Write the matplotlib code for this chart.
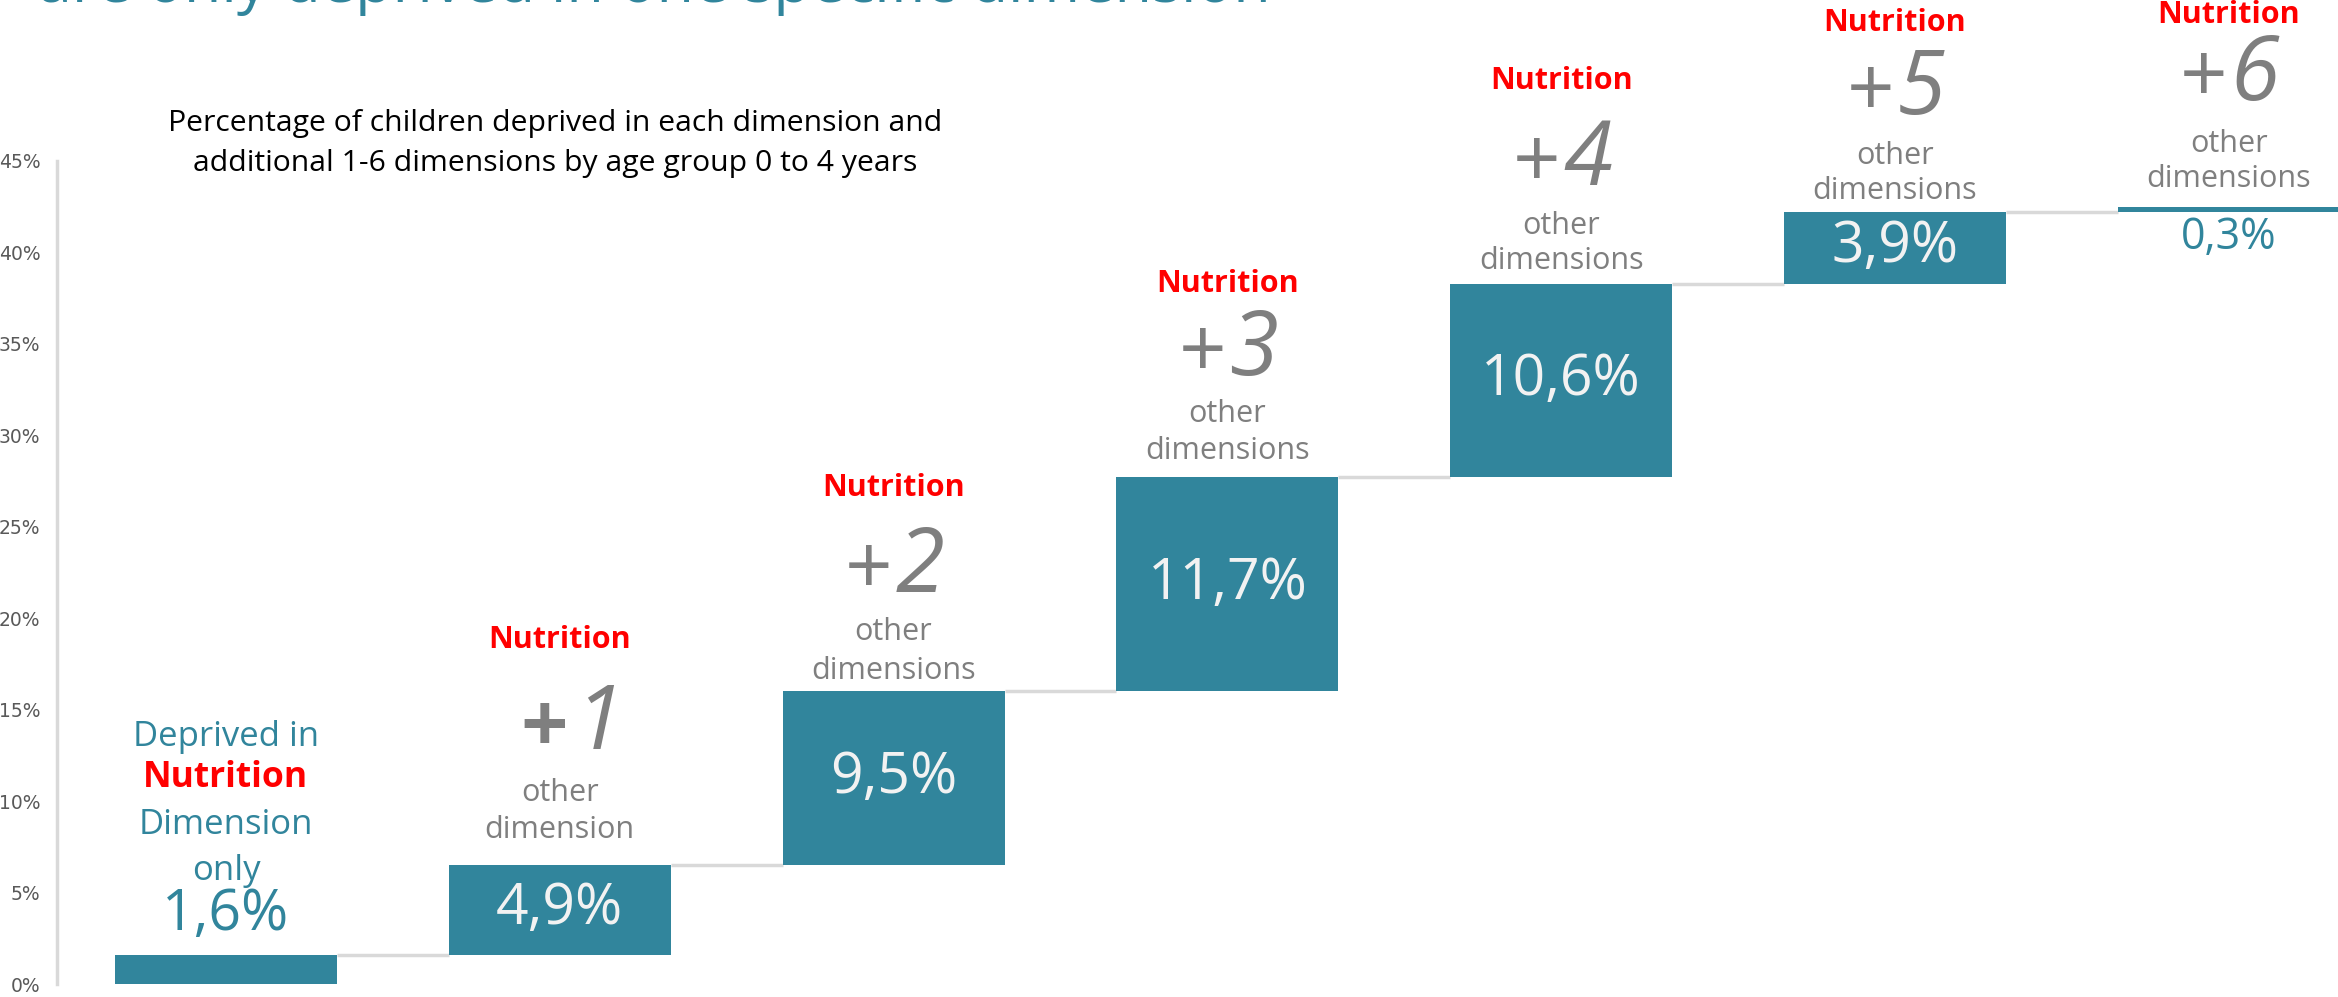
import matplotlib
matplotlib.use("Agg")
import matplotlib.pyplot as plt
import numpy as np

# share of children (0-4 years) deprived in Nutrition plus N other dimensions
steps = ["only", "+1", "+2", "+3", "+4", "+5", "+6"]
shares = [1.6, 4.9, 9.5, 11.7, 10.6, 3.9, 0.3]
yticks = [0, 5, 10, 15, 20, 25, 30, 35, 40, 45]

teal = "#31859C"
grey = "#7F7F7F"
red = "#FF0000"
font = "Open Sans"

bottoms = np.concatenate([[0], np.cumsum(shares)[:-1]])
tops = bottoms + np.array(shares)
x = np.arange(len(steps))
w = 0.665

fig = plt.figure(figsize=(23.38, 9.97), dpi=100)
ax = fig.add_axes([57 / 2338, 13 / 997, 1 - 57 / 2338, (984 - 161) / 997])

ax.bar(x, shares, bottom=bottoms, width=w, color=teal, zorder=3)
# waterfall connectors between consecutive bars
ax.hlines(tops[:-1], x[:-1] + w / 2, x[1:] - w / 2, color="#D9D9D9", lw=2.5, zorder=2)

ax.set_xlim(-0.506, 6.327)
ax.set_ylim(0, 45)
ax.set_yticks(yticks)
ax.set_yticklabels([f"{t}%" for t in yticks])
ax.tick_params(axis="y", length=0, pad=12, labelsize=13.5, labelcolor="#595959")
ax.set_xticks([])
for s in ["top", "right", "bottom"]:
    ax.spines[s].set_visible(False)
ax.spines["left"].set_color("#D9D9D9")
ax.spines["left"].set_linewidth(2.5)


def fmt(v):
    return f"{v:.1f}".replace(".", ",") + "%"


def put(i, dy, s, dx=0, ha="center", **kw):
    kw.setdefault("family", font)
    ax.annotate(s, (x[i], tops[i]), xytext=(dx, dy), textcoords="offset pixels",
                ha=ha, va="center", annotation_clip=False, **kw)


# first step: Nutrition only
put(0, 218, "Deprived in", color=teal, fontsize=25)
put(0, 177, "Nutrition", color=red, fontsize=25.5, weight="bold")
put(0, 130, "Dimension", color=teal, fontsize=25)
put(0, 84, "only", color=teal, fontsize=25)
put(0, 39, fmt(shares[0]), color=teal, fontsize=41)

# remaining steps: stacked captions above each bar
nutr_dy = [225, 203, 193, 203, 189, 192]
plus_dy = [139, 123, 126, 122, 121, 130]
other_dy = [72, 59, 63, 58, 56, 63]
dims_dy = [35, 20, 26, 23, 21, 28]
for k, i in enumerate(range(1, len(steps))):
    put(i, nutr_dy[k], "Nutrition", color=red, fontsize=22, weight="bold")
    sign, digit = steps[i][0], steps[i][1:]
    if i == 1:
        put(i, plus_dy[k] - 4, sign, dx=8, ha="right", color=grey, fontsize=60,
            weight="bold")
        put(i, plus_dy[k], digit, dx=14, ha="left", color=grey, fontsize=64,
            style="italic")
    else:
        put(i, plus_dy[k] - 4, sign, dx=-1, ha="right", color=grey, fontsize=60)
        put(i, plus_dy[k], digit, dx=2, ha="left", color=grey, fontsize=64,
            style="italic")
    put(i, other_dy[k], "other", color=grey, fontsize=22)
    put(i, dims_dy[k], "dimension" if i == 1 else "dimensions", color=grey,
        fontsize=22)

for i in range(1, len(steps) - 1):
    ax.text(x[i], bottoms[i] + shares[i] / 2, fmt(shares[i]), ha="center",
            va="center", color="#F2F2F2", fontsize=41, family=font, zorder=4)
put(6, -31, fmt(shares[6]), color=teal, fontsize=31)

fig.text(555 / 2338, 1 - 144 / 997,
         "Percentage of children deprived in each dimension and\n"
         "additional 1-6 dimensions by age group 0 to 4 years",
         ha="center", va="center", fontsize=21.7, family=font, linespacing=1.5)

# headline runs above the visible area
fig.text(38 / 2338, 1 - 2 / 997, "are only deprived in one specific dimension",
         ha="left", va="baseline", fontsize=44, color=teal, family=font)

fig.savefig("out.png", dpi=100)
